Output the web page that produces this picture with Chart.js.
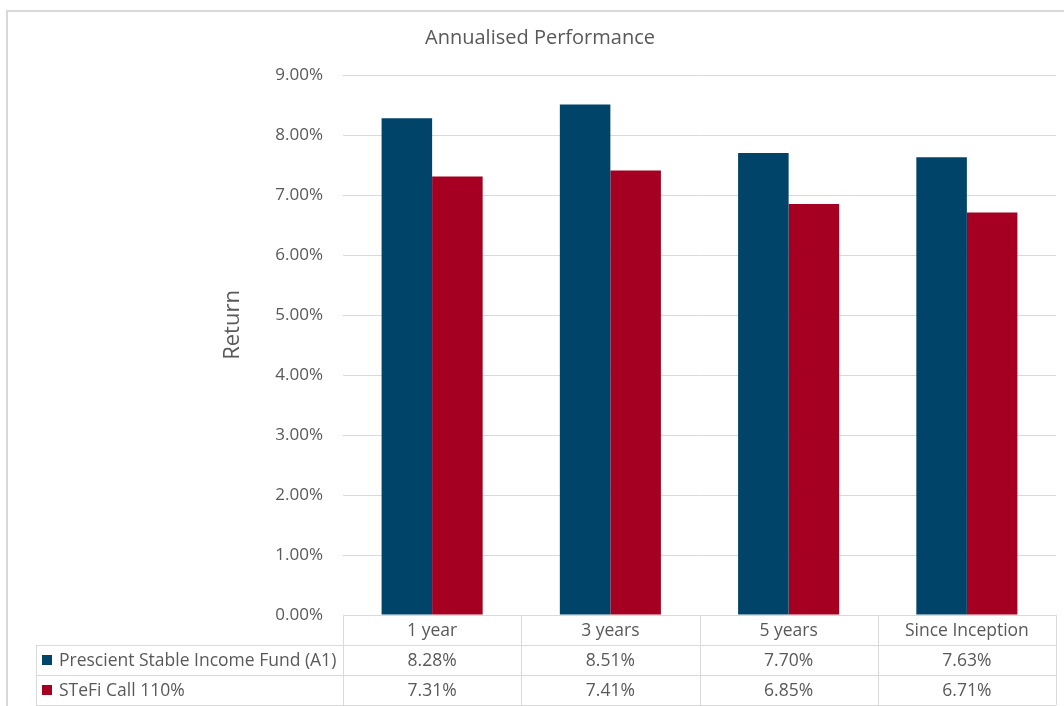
<!DOCTYPE html>
<html>
<head>
<meta charset="utf-8">
<title>Annualised Performance</title>
<script src="https://cdn.jsdelivr.net/npm/chart.js@4.4.1/dist/chart.umd.min.js"></script>
<style>
  html, body { margin: 0; padding: 0; background: #fff; }
  #wrap { width: 1064px; height: 706px; position: relative; }
</style>
</head>
<body>
<div id="wrap"><canvas id="perfChart"></canvas></div>
<script>
const categories = ['1 year', '3 years', '5 years', 'Since Inception'];
const seriesNames = ['Prescient Stable Income Fund (A1)', 'STeFi Call 110%'];
const fundValues = [8.28, 8.51, 7.70, 7.63];
const stefiValues = [7.31, 7.41, 6.85, 6.71];
const seriesColors = ['#00446a', '#a50021'];

const textColor = '#595959';
const lineColor = '#d9d9d9';
const fontFamily = '"Open Sans", "Noto Sans", sans-serif';

// excel style data table under the plot, plus frame and axis title
const dataTable = {
  id: 'dataTable',
  beforeDraw(chart) {
    const { ctx } = chart;
    ctx.save();
    ctx.strokeStyle = lineColor;
    ctx.lineWidth = 2;
    ctx.beginPath();
    ctx.moveTo(7, 706);
    ctx.lineTo(7, 11);
    ctx.lineTo(1064, 11);
    ctx.stroke();
    ctx.restore();
  },
  afterDraw(chart) {
    const { ctx, chartArea, scales: { x } } = chart;
    const step = x.width / categories.length;
    const top = chartArea.bottom;
    const rowH = 30;
    const tableLeft = 36;
    const rows = [fundValues, stefiValues];

    ctx.save();
    // y axis title sits a bit above the middle, like excel did it
    ctx.fillStyle = textColor;
    ctx.font = '22px ' + fontFamily;
    ctx.textAlign = 'center';
    ctx.textBaseline = 'middle';
    ctx.translate(233, 325);
    ctx.rotate(-Math.PI / 2);
    ctx.fillText('Return', 0, 0);
    ctx.restore();

    ctx.save();
    ctx.strokeStyle = lineColor;
    ctx.lineWidth = 1;
    ctx.beginPath();
    // horizontal lines
    ctx.moveTo(x.left, top + 0.5);
    ctx.lineTo(x.right, top + 0.5);
    for (let r = 1; r <= 3; r++) {
      const y = Math.round(top + r * rowH) + 0.5;
      ctx.moveTo(tableLeft, y);
      ctx.lineTo(x.right, y);
    }
    // vertical lines
    for (let c = 0; c <= categories.length; c++) {
      const xx = Math.round(x.left + c * step) + 0.5;
      ctx.moveTo(xx, top);
      ctx.lineTo(xx, top + 3 * rowH);
    }
    ctx.moveTo(tableLeft + 0.5, top + rowH);
    ctx.lineTo(tableLeft + 0.5, top + 3 * rowH);
    ctx.stroke();

    ctx.fillStyle = textColor;
    ctx.font = '17.5px ' + fontFamily;
    ctx.textBaseline = 'middle';
    ctx.textAlign = 'center';
    categories.forEach((cat, i) => {
      const cx = x.getPixelForValue(i);
      ctx.fillText(cat, cx, top + rowH / 2 + 1);
      rows.forEach((vals, r) => {
        ctx.fillText(vals[i].toFixed(2) + '%', cx, top + rowH * (r + 1.5) + 1);
      });
    });

    ctx.textAlign = 'left';
    seriesNames.forEach((name, r) => {
      const cy = top + rowH * (r + 1.5);
      ctx.fillStyle = seriesColors[r];
      ctx.fillRect(42, Math.round(cy - 5), 10, 10);
      ctx.fillStyle = textColor;
      ctx.fillText(name, 59, cy + 1);
    });
    ctx.restore();
  }
};

const chart = new Chart(document.getElementById('perfChart'), {
  type: 'bar',
  data: {
    labels: categories,
    datasets: [
      { label: seriesNames[0], data: fundValues, backgroundColor: seriesColors[0] },
      { label: seriesNames[1], data: stefiValues, backgroundColor: seriesColors[1] }
    ]
  },
  options: {
    responsive: true,
    maintainAspectRatio: false,
    animation: false,
    categoryPercentage: 0.567,
    barPercentage: 1,
    layout: { padding: { left: 24, right: 8, top: 10, bottom: 91 } },
    plugins: {
      legend: { display: false },
      tooltip: { enabled: false },
      title: {
        display: true,
        text: 'Annualised Performance',
        color: textColor,
        font: { family: fontFamily, size: 20, weight: 'normal' },
        padding: { top: 16, bottom: 25 }
      }
    },
    scales: {
      x: {
        display: false
      },
      y: {
        min: 0,
        max: 9,
        border: { display: false },
        grid: { color: lineColor, drawTicks: false },
        ticks: {
          stepSize: 1,
          padding: 20,
          color: textColor,
          font: { family: fontFamily, size: 17 },
          callback: v => v.toFixed(2) + '%'
        },
        afterFit(scale) { scale.width = 319; }
      }
    }
  },
  plugins: [dataTable]
});
</script>
</body>
</html>
